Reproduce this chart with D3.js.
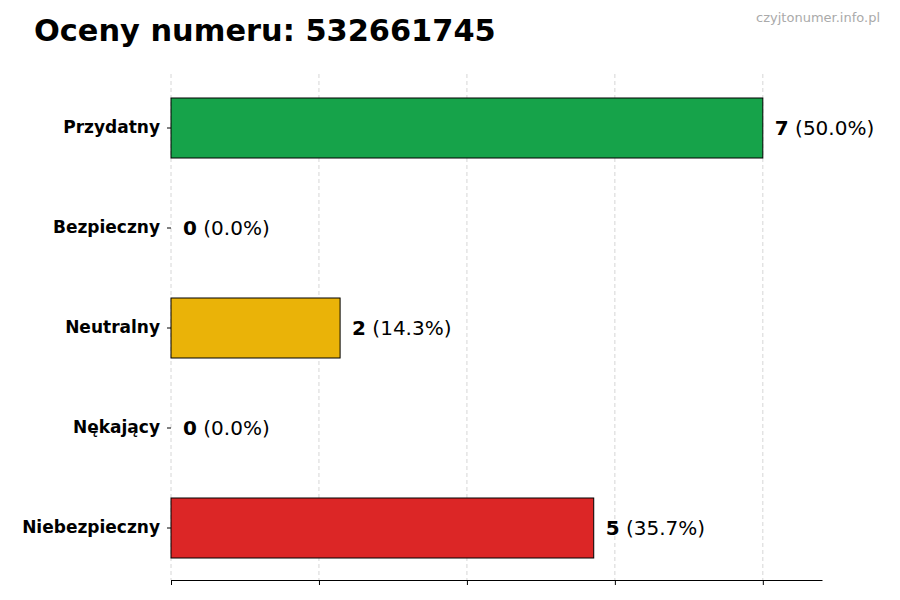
<!DOCTYPE html>
<html>
<head>
<meta charset="utf-8">
<script src="https://cdn.jsdelivr.net/npm/d3@7"></script>
<style>
  body { margin: 0; background: #fff; }
  text { font-family: "DejaVu Sans", sans-serif; }
</style>
</head>
<body>
<svg id="chart" width="900" height="600"></svg>
<script>
// chart data
var categories = ["Przydatny", "Bezpieczny", "Neutralny", "Nękający", "Niebezpieczny"];
var counts = [7, 0, 2, 0, 5];
var percents = ["50.0%", "0.0%", "14.3%", "0.0%", "35.7%"];
var colors = ["#16a34a", "#16a34a", "#eab308", "#dc2626", "#dc2626"];
var gridTicks = [0, 1.75, 3.5, 5.25, 7];

var svg = d3.select("#chart");
var plotLeft = 171, plotRight = 822, plotTop = 78, plotBottom = 578;

var x = d3.scaleLinear().domain([0, 7.7]).range([plotLeft, plotRight]);
var y = d3.scaleBand().domain(categories).range([plotTop, plotBottom]).paddingInner(0.4).paddingOuter(0.2);

// title + watermark
svg.append("text").attr("x", 34).attr("y", 41)
    .attr("font-size", 30.4).attr("font-weight", "bold")
    .text("Oceny numeru: 532661745");
svg.append("text").attr("x", 880).attr("y", 22).attr("text-anchor", "end")
    .attr("font-size", 13).attr("fill", "#aaa")
    .text("czyjtonumer.info.pl");

// grid
svg.append("g").selectAll("line").data(gridTicks).enter().append("line")
    .attr("x1", function(d) { return x(d); }).attr("x2", function(d) { return x(d); })
    .attr("y1", plotTop - 4).attr("y2", plotBottom + 2)
    .attr("stroke", "#ccc").attr("stroke-dasharray", "4,3").attr("stroke-width", 0.8);

// bottom axis (no labels)
var xAxis = d3.axisBottom(x).tickValues(gridTicks).tickFormat("").tickSize(5).tickSizeOuter(0);
var gx = svg.append("g").attr("transform", "translate(0," + (plotBottom + 2) + ")").call(xAxis);
gx.select(".domain").attr("stroke", "#000");

// left axis ticks + labels
var yAxis = d3.axisLeft(y).tickSize(4).tickPadding(7);
var gy = svg.append("g").attr("transform", "translate(" + plotLeft + ",0)").call(yAxis);
gy.select(".domain").remove();
gy.selectAll("text").attr("font-size", 17).attr("font-weight", "bold")
    .attr("fill", "#000").style("font-family", "DejaVu Sans, sans-serif");

// bars
svg.append("g").selectAll("rect").data(categories).enter().append("rect")
    .attr("x", x(0))
    .attr("y", function(d) { return y(d); })
    .attr("height", y.bandwidth())
    .attr("width", function(d, i) { return x(counts[i]) - x(0); })
    .attr("fill", function(d, i) { return colors[i]; })
    .attr("stroke", "#000").attr("stroke-width", 1);

// value labels
var lbl = svg.append("g").selectAll("text").data(categories).enter().append("text")
    .attr("x", function(d, i) { return x(counts[i]) + 12; })
    .attr("y", function(d) { return y(d) + y.bandwidth() / 2; })
    .attr("dy", "0.35em").attr("font-size", 20);
lbl.append("tspan").attr("font-weight", "bold").text(function(d, i) { return counts[i]; });
lbl.append("tspan").text(function(d, i) { return " (" + percents[i] + ")"; });
</script>
</body>
</html>
